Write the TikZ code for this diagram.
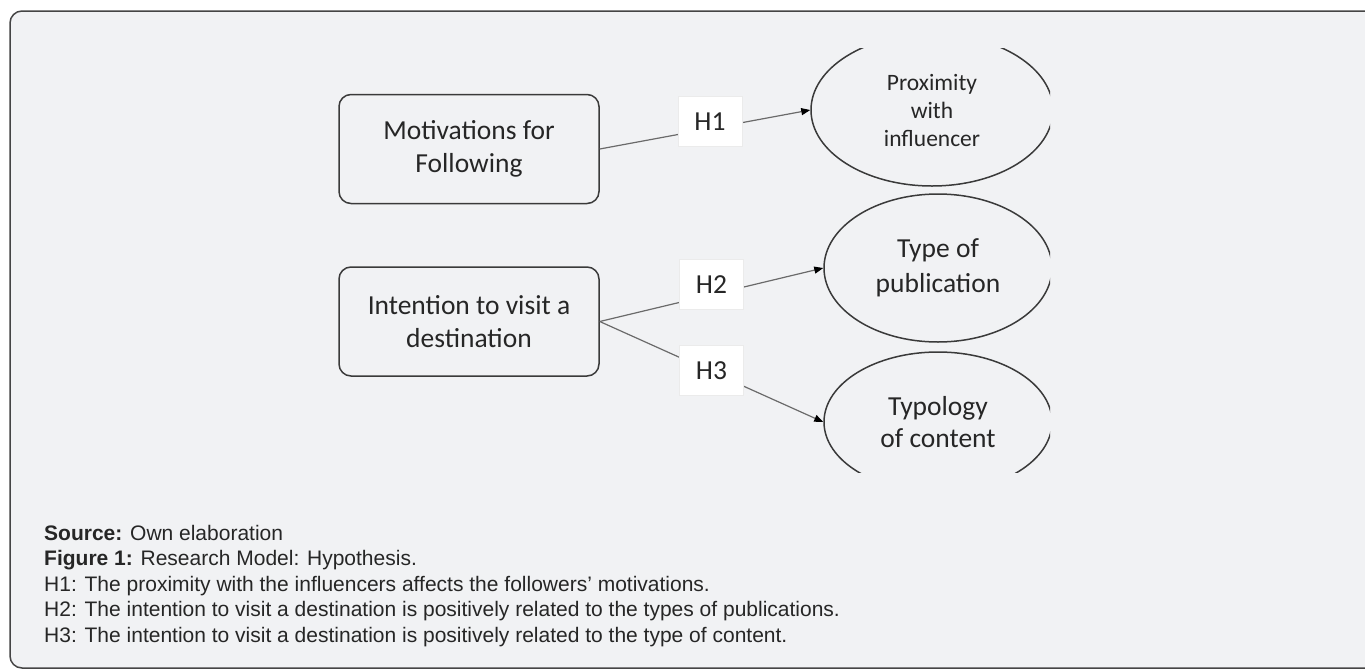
\documentclass[tikz,border=0pt]{standalone}
\usepackage{fontspec}
\setmainfont{Carlito}
\newfontfamily\arialf{Liberation Sans}
\usetikzlibrary{shapes.geometric,arrows.meta}
\definecolor{bgc}{HTML}{F1F2F4}
\definecolor{framec}{HTML}{454545}
\definecolor{boxc}{HTML}{3A3A3A}
\definecolor{linec}{HTML}{6A6A6A}
\definecolor{txtc}{HTML}{262626}
\begin{document}
\begin{tikzpicture}[x=1pt,y=-1pt,
  box/.style={draw=boxc, line width=1.5pt, rounded corners=12pt, align=center, inner sep=0pt,
    minimum width=260pt, minimum height=109pt, text=txtc, font=\fontsize{27.5}{33}\selectfont},
  ell/.style={ellipse, draw=boxc, line width=1.5pt, inner sep=0pt, align=center, text=txtc},
  hlab/.style={fill=white, draw=black!8, line width=0.5pt, minimum width=64pt, minimum height=50pt,
    inner sep=0pt, text=txtc, font=\fontsize{27.5}{30}\selectfont},
  conn/.style={draw=linec, line width=1.2pt, -{Triangle[length=9pt,width=7pt,color=black]}},
  captxt/.style={anchor=base west, inner sep=0pt, text=txtc, font=\arialf\fontsize{21}{25.5}\selectfont}
]
\useasboundingbox (0,0) rectangle (1365,670);
\fill[white] (0,0) rectangle (1365,670);
\draw[fill=bgc, draw=framec, line width=1.5pt, rounded corners=12pt] (10,11) rectangle (1390,668);

\node[box] (mot) at (469,149) {Motivations for\\Following};
\node[box] (int) at (469,321.5) {Intention to visit a\\destination};

\begin{scope}
\clip (300,48) rectangle (1050,472);
\node[ell, minimum width=242pt, minimum height=152pt, font=\fontsize{23.5}{28}\selectfont] (prox) at (932,110) {Proximity\\with\\influencer};
\node[ell, minimum width=228pt, minimum height=148pt, font=\fontsize{27.5}{35}\selectfont] (type) at (938,268) {Type of\\publication};
\node[ell, minimum width=228pt, minimum height=140pt, font=\fontsize{27.5}{32}\selectfont] (typo) at (938,422) {Typology\\of content};
\end{scope}

\draw[conn] (mot.east) -- (prox.west);
\draw[conn] (int.east) -- (type.west);
\draw[conn] (int.east) -- (typo.west);

\node[hlab] (h1) at (710,121.5) {H1};
\node[hlab] (h2) at (711.5,284.5) {H2};
\node[hlab] (h3) at (711.5,370.5) {H3};

\node[captxt] (c1) at (44,540) {\textbf{Source:} Own elaboration};
\node[captxt] (c2) at (44,565.5) {\textbf{Figure 1:} Research Model: Hypothesis.};
\node[captxt] (c3) at (44,591) {H1: The proximity with the influencers affects the followers’ motivations.};
\node[captxt] (c4) at (44,616.5) {H2: The intention to visit a destination is positively related to the types of publications.};
\node[captxt] (c5) at (44,642) {H3: The intention to visit a destination is positively related to the type of content.};
\end{tikzpicture}
\end{document}
